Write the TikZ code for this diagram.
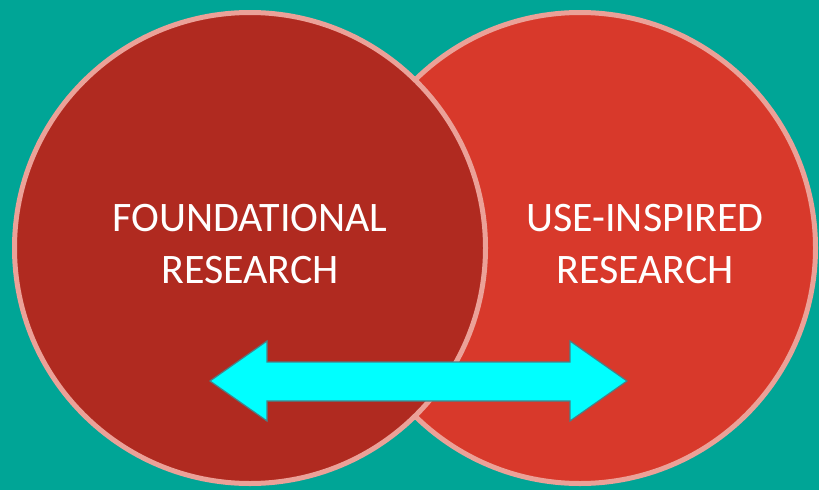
\documentclass[tikz,border=0pt]{standalone}
\usepackage{fontspec}
\setmainfont{Carlito}
\definecolor{bgteal}{HTML}{00A596}
\definecolor{fndred}{HTML}{B02A20}
\definecolor{usered}{HTML}{D8392B}
\definecolor{rimpink}{HTML}{EBA198}
\definecolor{arrcyan}{HTML}{00FFFF}
\definecolor{arrline}{HTML}{4A7F86}
\begin{document}
\begin{tikzpicture}[x=1pt, y=-1pt,
    disc/.style = {draw=rimpink, line width=5pt, circle, minimum size=471pt, inner sep=0pt},
    lbl/.style = {text=white, align=center, font=\fontsize{42}{52}\selectfont}]
        \fill[bgteal] (0,0) rectangle (819,490);
        \useasboundingbox (0,0) rectangle (819,490);
        \node[disc, fill=usered] (use) at (580,248) {};
        \node[disc, fill=fndred] (fnd) at (250,248) {};
        \node[lbl] (fndtxt) at (250,244) {FOUNDATIONAL\\RESEARCH};
        \node[lbl] (usetxt) at (645,244) {USE-INSPIRED\\RESEARCH};
        % two-way arrow
        \draw[fill=arrcyan, draw=arrline, line width=1.2pt, line join=miter]
            (210,381) -- (267,341) -- (267,362) -- (570,362) -- (570,341) -- (627,381)
            -- (570,421) -- (570,401) -- (267,401) -- (267,421) -- cycle;
    \end{tikzpicture}
\end{document}
